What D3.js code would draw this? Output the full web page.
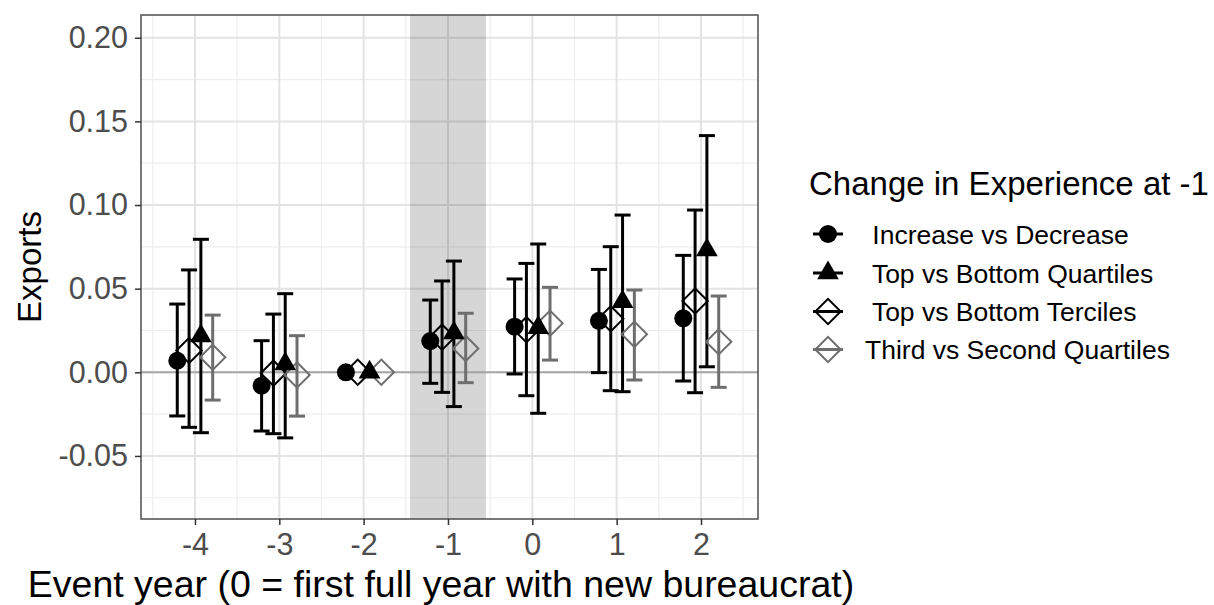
<!DOCTYPE html>
<html>
<head>
<meta charset="utf-8">
<script src="https://cdn.jsdelivr.net/npm/d3@7"></script>
<style>
  html, body { margin: 0; padding: 0; background: #fff; }
  svg { display: block; font-family: "Liberation Sans", Arial, Helvetica, sans-serif; }
</style>
</head>
<body>
<svg id="chart" width="1214" height="605"></svg>
<script>
// Event years on the x axis
const years = [-4, -3, -2, -1, 0, 1, 2];

// Point estimates and 95% intervals for each comparison
const incEst   = [0.0069, -0.0080, 0, 0.0187, 0.0273, 0.0308, 0.0323];
const incLo    = [-0.0261, -0.0351, 0, -0.0066, -0.0010, -0.0002, -0.0052];
const incHi    = [0.0408, 0.0189, 0, 0.0432, 0.0558, 0.0615, 0.0699];

const quartEst = [0.0217, 0.0050, 0, 0.0235, 0.0267, 0.0422, 0.0731];
const quartLo  = [-0.0361, -0.0392, 0, -0.0205, -0.0245, -0.0116, 0.0033];
const quartHi  = [0.0795, 0.0470, 0, 0.0665, 0.0767, 0.0940, 0.1415];

const tercEst  = [0.0130, -0.0005, 0, 0.0210, 0.0255, 0.0320, 0.0426];
const tercLo   = [-0.0329, -0.0367, 0, -0.0120, -0.0140, -0.0110, -0.0122];
const tercHi   = [0.0612, 0.0348, 0, 0.0546, 0.0651, 0.0751, 0.0970];

const thirdEst = [0.0090, -0.0016, 0, 0.0143, 0.0293, 0.0227, 0.0183];
const thirdLo  = [-0.0166, -0.0262, 0, -0.0062, 0.0073, -0.0046, -0.0090];
const thirdHi  = [0.0342, 0.0219, 0, 0.0353, 0.0508, 0.0492, 0.0456];

// Tick labels
const yTicks = [-0.05, 0.00, 0.05, 0.10, 0.15, 0.20];
const yTickLabels = ["-0.05", "0.00", "0.05", "0.10", "0.15", "0.20"];
const xTickLabels = ["-4", "-3", "-2", "-1", "0", "1", "2"];

const legendTitle = "Change in Experience at -1";
const seriesNames = [" Increase vs Decrease", " Top vs Bottom Quartiles", " Top vs Bottom Terciles", "Third vs Second Quartiles"];

// Shaded window around the change year
const shadeRange = [-1.45, -0.55];

// Series definitions (order = legend order)
const series = [
  { name: seriesNames[0], est: incEst,   lo: incLo,   hi: incHi,   shape: "circle",   dodge: -0.21, color: "#000000" },
  { name: seriesNames[1], est: quartEst, lo: quartLo, hi: quartHi, shape: "triangle", dodge:  0.07, color: "#000000" },
  { name: seriesNames[2], est: tercEst,  lo: tercLo,  hi: tercHi,  shape: "diamond",  dodge: -0.07, color: "#000000" },
  { name: seriesNames[3], est: thirdEst, lo: thirdLo, hi: thirdHi, shape: "diamond",  dodge:  0.21, color: "#6e6e6e" }
];

const svg = d3.select("#chart");
const panel = { left: 141, right: 758, top: 15, bottom: 519 };

const x = d3.scaleLinear().domain([-4.64, 2.676]).range([panel.left, panel.right]);
const y = d3.scaleLinear().domain([-0.0877, 0.2136]).range([panel.bottom, panel.top]);

// Panel background
svg.append("rect")
  .attr("x", panel.left).attr("y", panel.top)
  .attr("width", panel.right - panel.left).attr("height", panel.bottom - panel.top)
  .attr("fill", "#ffffff");

const grid = svg.append("g");
const xMinor = d3.range(-4.5, 2.51, 1);
const yMinor = d3.range(-0.075, 0.2, 0.05);

grid.selectAll(".xminor").data(xMinor).join("line")
  .attr("x1", d => x(d)).attr("x2", d => x(d))
  .attr("y1", panel.top).attr("y2", panel.bottom)
  .attr("stroke", "#eeeeee").attr("stroke-width", 1.2);
grid.selectAll(".yminor").data(yMinor).join("line")
  .attr("y1", d => y(d)).attr("y2", d => y(d))
  .attr("x1", panel.left).attr("x2", panel.right)
  .attr("stroke", "#eeeeee").attr("stroke-width", 1.2);
grid.selectAll(".xmajor").data(years).join("line")
  .attr("x1", d => x(d)).attr("x2", d => x(d))
  .attr("y1", panel.top).attr("y2", panel.bottom)
  .attr("stroke", "#e3e3e3").attr("stroke-width", 2);
grid.selectAll(".ymajor").data(yTicks).join("line")
  .attr("y1", d => y(d)).attr("y2", d => y(d))
  .attr("x1", panel.left).attr("x2", panel.right)
  .attr("stroke", "#e3e3e3").attr("stroke-width", 2);

// Shaded event window
svg.append("rect")
  .attr("x", x(shadeRange[0])).attr("width", x(shadeRange[1]) - x(shadeRange[0]))
  .attr("y", panel.top).attr("height", panel.bottom - panel.top)
  .attr("fill", "#000").attr("fill-opacity", 0.16);

// Zero reference line
svg.append("line")
  .attr("x1", panel.left).attr("x2", panel.right)
  .attr("y1", y(0)).attr("y2", y(0))
  .attr("stroke", "#a6a6a6").attr("stroke-width", 2);

// Error bars
const capHalf = 8;
const bars = svg.append("g");
series.forEach(s => {
  const rows = years.map((yr, i) => ({ xv: yr + s.dodge, lo: s.lo[i], hi: s.hi[i] }))
    .filter(r => r.hi > r.lo);
  const g = bars.append("g").attr("stroke", s.color).attr("stroke-width", 3).attr("fill", "none");
  g.selectAll(".v").data(rows).join("line")
    .attr("x1", r => x(r.xv)).attr("x2", r => x(r.xv))
    .attr("y1", r => y(r.lo)).attr("y2", r => y(r.hi));
  g.selectAll(".t").data(rows).join("line")
    .attr("x1", r => x(r.xv) - capHalf).attr("x2", r => x(r.xv) + capHalf)
    .attr("y1", r => y(r.hi)).attr("y2", r => y(r.hi));
  g.selectAll(".b").data(rows).join("line")
    .attr("x1", r => x(r.xv) - capHalf).attr("x2", r => x(r.xv) + capHalf)
    .attr("y1", r => y(r.lo)).attr("y2", r => y(r.lo));
});

// Marker shapes
const symbolPath = {
  circle: d3.symbol().type(d3.symbolCircle).size(Math.PI * 81)(),
  triangle: d3.symbol().type(d3.symbolTriangle).size(205)(),
  diamond: d3.symbol().type(d3.symbolSquare).size(320)()
};
function drawMarker(sel, s) {
  const p = sel.append("path").attr("d", symbolPath[s.shape]);
  if (s.shape === "diamond") {
    p.attr("fill", "none").attr("stroke", s.color).attr("stroke-width", 2)
     .attr("transform", "rotate(45)");
  } else {
    p.attr("fill", s.color).attr("stroke", "none");
  }
  return p;
}

// Points: hollow diamonds underneath, filled markers on top
const pts = svg.append("g");
[series[2], series[3], series[0], series[1]].forEach(s => {
  years.forEach((yr, i) => {
    const g = pts.append("g").attr("transform", `translate(${x(yr + s.dodge)},${y(s.est[i])})`);
    drawMarker(g, s);
  });
});

// Panel border
svg.append("rect")
  .attr("x", panel.left).attr("y", panel.top)
  .attr("width", panel.right - panel.left).attr("height", panel.bottom - panel.top)
  .attr("fill", "none").attr("stroke", "#4d4d4d").attr("stroke-width", 1.5);

// Axes
const yAxis = d3.axisLeft(y).tickValues(yTicks).tickFormat((d, i) => yTickLabels[i])
  .tickSize(6).tickPadding(7);
const yg = svg.append("g").attr("transform", `translate(${panel.left},0)`).call(yAxis);
yg.select(".domain").remove();
yg.selectAll(".tick line").attr("stroke", "#333").attr("stroke-width", 1.5);
yg.selectAll(".tick text").attr("fill", "#4d4d4d").style("font-size", "30.5px")
  .style("font-family", "'Liberation Sans', Arial, sans-serif");

const xAxis = d3.axisBottom(x).tickValues(years).tickFormat((d, i) => xTickLabels[i])
  .tickSize(6).tickPadding(8);
const xg = svg.append("g").attr("transform", `translate(0,${panel.bottom})`).call(xAxis);
xg.select(".domain").remove();
xg.selectAll(".tick line").attr("stroke", "#333").attr("stroke-width", 1.5);
xg.selectAll(".tick text").attr("fill", "#4d4d4d").style("font-size", "30.5px")
  .style("font-family", "'Liberation Sans', Arial, sans-serif");

// Axis titles
svg.append("text")
  .attr("x", 441).attr("y", 597)
  .attr("text-anchor", "middle").attr("fill", "#000")
  .style("font-size", "37.5px")
  .text("Event year (0 = first full year with new bureaucrat)");

svg.append("text")
  .attr("transform", `translate(41,${(panel.top + panel.bottom) / 2}) rotate(-90)`)
  .attr("text-anchor", "middle").attr("fill", "#000")
  .style("font-size", "33px")
  .text("Exports");

// Legend
const legend = svg.append("g").attr("transform", "translate(809,0)");
legend.append("text")
  .attr("x", 0).attr("y", 195)
  .attr("fill", "#000").style("font-size", "33px")
  .text(legendTitle);

const rowY = [234, 273, 311.5, 349.5];
series.forEach((s, i) => {
  const row = legend.append("g").attr("transform", `translate(19,${rowY[i]})`);
  row.append("line").attr("x1", -15).attr("x2", 15).attr("y1", 0).attr("y2", 0)
    .attr("stroke", s.color).attr("stroke-width", 3);
  drawMarker(row, s);
  row.append("text")
    .attr("x", 37).attr("y", 9.5)
    .attr("xml:space", "preserve")
    .style("white-space", "pre")
    .attr("fill", "#000").style("font-size", "26.5px")
    .text(s.name);
});
</script>
</body>
</html>
